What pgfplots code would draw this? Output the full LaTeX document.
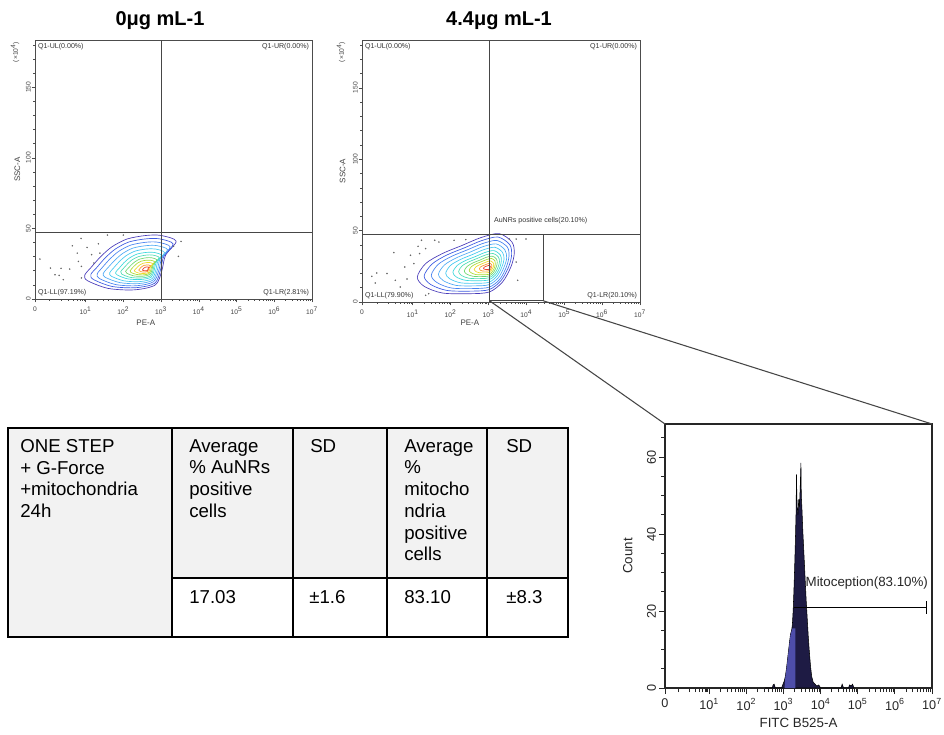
\documentclass[border=0pt]{standalone}
\usepackage{pgfplots}
\pgfplotsset{compat=1.18}
\usepackage{fontspec}
\setmainfont{Liberation Sans}
\definecolor{k1}{RGB}{72,58,185}
\definecolor{k2}{RGB}{60,90,225}
\definecolor{k3}{RGB}{70,130,240}
\definecolor{k4}{RGB}{80,170,245}
\definecolor{k5}{RGB}{70,200,240}
\definecolor{k6}{RGB}{60,215,220}
\definecolor{k7}{RGB}{80,220,180}
\definecolor{k8}{RGB}{110,215,110}
\definecolor{k9}{RGB}{170,220,50}
\definecolor{k10}{RGB}{240,215,40}
\definecolor{k11}{RGB}{250,150,40}
\definecolor{k12}{RGB}{235,60,40}
\definecolor{hdark}{RGB}{30,27,68}
\definecolor{hlight}{RGB}{78,78,170}
\definecolor{qline}{RGB}{70,70,70}
\definecolor{tgray}{RGB}{242,242,242}
\tikzset{qlab/.style={font=\fontsize{5.3}{6}\selectfont, inner sep=0pt, text=black!80}}
\pgfplotsset{
  logminors/.style={minor xtick={#1,1.301,1.477,1.602,1.699,1.778,1.845,1.903,1.954,
    2.301,2.477,2.602,2.699,2.778,2.845,2.903,2.954,
    3.301,3.477,3.602,3.699,3.778,3.845,3.903,3.954,
    4.301,4.477,4.602,4.699,4.778,4.845,4.903,4.954,
    5.301,5.477,5.602,5.699,5.778,5.845,5.903,5.954,
    6.301,6.477,6.602,6.699,6.778,6.845,6.903,6.954}},
  flow/.style={
    scale only axis, clip mode=individual, anchor=south west,
    xmin=-0.34, xmax=7, ymin=0, ymax=183.5,
    axis line style={draw=black!70, line width=0.5pt},
    tick align=outside, tick pos=left,
    major tick length=2.5pt, minor tick length=1.5pt,
    every tick/.style={draw=black!70, line width=0.4pt},
    xtick={-0.34,1,2,3,4,5,6,7},
    xticklabels={0,10\textsuperscript{1},10\textsuperscript{2},10\textsuperscript{3},10\textsuperscript{4},10\textsuperscript{5},10\textsuperscript{6},10\textsuperscript{7}},
    logminors={0.05,0.35,0.54,0.67,0.78,0.85,0.91,0.96},
    ytick={0,50,100,150},
    minor ytick={10,20,30,40,60,70,80,90,110,120,130,140,160,170,180},
    yticklabel style={rotate=90, anchor=south, inner ysep=0.6pt},
    tick label style={font=\fontsize{5}{6}\selectfont, text=black!75},
    /pgf/number format/assume math mode=true,
    xlabel={PE-A}, ylabel={SSC-A},
    label style={font=\fontsize{6}{7}\selectfont, text=black!75},
  },
}
\begin{document}
\begin{tikzpicture}
\path[use as bounding box] (0,0) rectangle (708pt,550.5pt);

% ---------------- plot 1 ----------------
\begin{axis}[flow, at={(26.25pt,326.25pt)}, width=207.75pt, height=194.25pt,
  xlabel style={at={(rel axis cs:0.40,-0.093)}, anchor=center},
  ylabel style={at={(rel axis cs:-0.064,0.5)}, anchor=center}]
\addplot[k1, smooth cycle, line width=0.5pt] coordinates {(0.98,17.0)(1.15,22.5)(1.40,30.0)(1.70,37.0)(2.10,42.5)(2.60,45.0)(3.00,45.0)(3.40,41.0)(3.12,31.0)(3.02,20.0)(2.85,10.0)(2.30,6.5)(1.60,7.5)(1.05,13.0)};
\addplot[k2, smooth cycle, line width=0.5pt] coordinates {(1.14,17.4)(1.30,22.4)(1.52,29.1)(1.79,35.4)(2.15,40.4)(2.60,42.6)(2.96,42.6)(3.32,39.0)(3.07,30.0)(2.98,20.1)(2.83,11.1)(2.33,8.0)(1.70,8.9)(1.21,13.8)};
\addplot[k3, smooth cycle, line width=0.5pt] coordinates {(1.31,17.8)(1.44,22.2)(1.64,28.2)(1.88,33.8)(2.20,38.2)(2.60,40.2)(2.92,40.2)(3.24,37.0)(3.02,29.0)(2.94,20.2)(2.80,12.2)(2.36,9.4)(1.80,10.2)(1.36,14.6)};
\addplot[k4, smooth cycle, line width=0.5pt] coordinates {(1.47,18.2)(1.59,22.1)(1.77,27.3)(1.98,32.2)(2.26,36.1)(2.61,37.8)(2.89,37.8)(3.17,35.0)(2.97,28.0)(2.90,20.3)(2.78,13.3)(2.40,10.9)(1.91,11.6)(1.52,15.4)};
\addplot[k5, smooth cycle, line width=0.5pt] coordinates {(1.64,18.6)(1.74,21.9)(1.89,26.4)(2.07,30.6)(2.31,33.9)(2.61,35.4)(2.85,35.4)(3.09,33.0)(2.92,27.0)(2.86,20.4)(2.76,14.4)(2.43,12.3)(2.01,12.9)(1.68,16.2)};
\addplot[k6, smooth cycle, line width=0.5pt] coordinates {(1.80,19.0)(1.89,21.8)(2.01,25.5)(2.16,29.0)(2.36,31.8)(2.61,33.0)(2.81,33.0)(3.01,31.0)(2.87,26.0)(2.82,20.5)(2.74,15.5)(2.46,13.8)(2.11,14.3)(1.84,17.0)};
\addplot[k7, smooth cycle, line width=0.5pt] coordinates {(1.93,19.3)(2.00,21.6)(2.11,24.8)(2.23,27.7)(2.40,30.0)(2.61,31.1)(2.78,31.1)(2.95,29.4)(2.83,25.2)(2.79,20.6)(2.72,16.4)(2.49,14.9)(2.19,15.3)(1.96,17.6)};
\addplot[k8, smooth cycle, line width=0.5pt] coordinates {(2.06,19.6)(2.12,21.5)(2.21,24.1)(2.31,26.4)(2.44,28.3)(2.61,29.2)(2.75,29.2)(2.89,27.8)(2.79,24.4)(2.76,20.7)(2.70,17.3)(2.51,16.1)(2.27,16.4)(2.09,18.3)};
\addplot[k9, smooth cycle, line width=0.5pt] coordinates {(2.18,19.9)(2.22,21.4)(2.29,23.4)(2.37,25.3)(2.48,26.8)(2.62,27.5)(2.72,27.5)(2.83,26.4)(2.76,23.7)(2.73,20.7)(2.68,18.0)(2.53,17.1)(2.35,17.4)(2.20,18.8)};
\addplot[k10, smooth cycle, line width=0.5pt] coordinates {(2.29,20.2)(2.33,21.3)(2.38,22.8)(2.44,24.2)(2.52,25.3)(2.62,25.8)(2.70,25.8)(2.78,25.0)(2.72,23.0)(2.70,20.8)(2.67,18.8)(2.56,18.1)(2.42,18.3)(2.31,19.4)};
\addplot[k11, smooth cycle, line width=0.5pt] coordinates {(2.41,20.5)(2.43,21.2)(2.46,22.2)(2.50,23.1)(2.55,23.8)(2.62,24.1)(2.67,24.1)(2.72,23.6)(2.69,22.3)(2.67,20.9)(2.65,19.6)(2.58,19.1)(2.49,19.2)(2.42,20.0)};
\addplot[k12, smooth cycle, line width=0.5pt] coordinates {(2.51,20.7)(2.52,21.1)(2.53,21.6)(2.56,22.1)(2.58,22.5)(2.62,22.7)(2.65,22.7)(2.68,22.4)(2.66,21.7)(2.65,20.9)(2.64,20.2)(2.60,20.0)(2.55,20.1)(2.51,20.4)};
\addplot[only marks, mark=*, mark size=0.35pt, black!60] coordinates {(-0.21,28.3)(0.07,21.9)(0.35,21.7)(0.19,17.2)(0.30,16.7)(0.58,21.2)(0.65,37.7)(0.88,42.9)(0.78,32.5)(0.81,26.6)(0.89,23.1)(1.04,36.5)(1.16,31.4)(1.22,25.5)(1.34,39.1)(1.38,32.5)(1.58,45.3)(2.00,45.3)(3.33,37.3)(3.53,40.8)(3.46,30.2)(0.41,13.7)(0.89,14.9)};
\addplot[qline, line width=0.6pt] coordinates {(3,0)(3,183.5)};
\addplot[qline, line width=0.6pt] coordinates {(-0.34,47.3)(7,47.3)};
\node[qlab, anchor=west] at (rel axis cs:0.01,0.974) {Q1-UL(0.00\%)};
\node[qlab, anchor=east] at (rel axis cs:0.99,0.974) {Q1-UR(0.00\%)};
\node[qlab, anchor=west] at (rel axis cs:0.01,0.023) {Q1-LL(97.19\%)};
\node[qlab, anchor=east] at (rel axis cs:0.99,0.023) {Q1-LR(2.81\%)};
\end{axis}

% ---------------- plot 2 ----------------
\begin{axis}[flow, at={(271.5pt,324pt)}, width=208.5pt, height=196.5pt,
  xlabel style={at={(rel axis cs:0.388,-0.080)}, anchor=center},
  ylabel style={at={(rel axis cs:-0.070,0.5)}, anchor=center}]
\addplot[k1, smooth cycle, line width=0.5pt] coordinates {(1.12,17.5)(1.34,26.9)(1.78,33.9)(2.31,39.7)(2.80,45.1)(3.28,47.9)(3.62,42.0)(3.68,33.9)(3.59,24.5)(3.37,14.0)(3.02,7.0)(2.49,5.8)(1.78,6.3)(1.30,11.0)};
\addplot[k2, smooth cycle, line width=0.5pt] coordinates {(1.30,18.2)(1.51,26.6)(1.90,32.9)(2.38,38.1)(2.82,43.0)(3.25,45.5)(3.56,40.2)(3.61,32.9)(3.53,24.5)(3.33,15.0)(3.02,8.7)(2.54,7.6)(1.90,8.1)(1.47,12.3)};
\addplot[k3, smooth cycle, line width=0.5pt] coordinates {(1.49,18.8)(1.67,26.3)(2.02,31.9)(2.45,36.6)(2.84,40.9)(3.22,43.1)(3.50,38.4)(3.54,31.9)(3.47,24.4)(3.30,16.0)(3.02,10.4)(2.59,9.4)(2.02,9.8)(1.64,13.6)};
\addplot[k4, smooth cycle, line width=0.5pt] coordinates {(1.68,19.5)(1.84,26.0)(2.15,30.9)(2.52,35.0)(2.86,38.8)(3.20,40.7)(3.43,36.6)(3.48,30.9)(3.41,24.4)(3.26,17.0)(3.01,12.1)(2.64,11.3)(2.15,11.6)(1.81,14.9)};
\addplot[k5, smooth cycle, line width=0.5pt] coordinates {(1.87,20.1)(2.00,25.7)(2.27,29.9)(2.59,33.4)(2.88,36.7)(3.17,38.3)(3.37,34.8)(3.41,29.9)(3.35,24.3)(3.22,18.0)(3.01,13.8)(2.69,13.1)(2.27,13.4)(1.98,16.2)};
\addplot[k6, smooth cycle, line width=0.5pt] coordinates {(2.06,20.8)(2.17,25.5)(2.39,29.0)(2.66,31.9)(2.90,34.6)(3.14,36.0)(3.31,33.0)(3.34,29.0)(3.30,24.3)(3.19,19.0)(3.01,15.5)(2.75,14.9)(2.39,15.2)(2.15,17.5)};
\addplot[k7, smooth cycle, line width=0.5pt] coordinates {(2.21,21.3)(2.30,25.2)(2.49,28.2)(2.71,30.6)(2.92,32.9)(3.12,34.0)(3.26,31.6)(3.29,28.2)(3.25,24.2)(3.16,19.8)(3.01,16.9)(2.79,16.4)(2.49,16.6)(2.29,18.5)};
\addplot[k8, smooth cycle, line width=0.5pt] coordinates {(2.36,21.8)(2.44,25.0)(2.59,27.4)(2.77,29.3)(2.93,31.2)(3.10,32.1)(3.21,30.1)(3.23,27.4)(3.20,24.2)(3.13,20.6)(3.01,18.2)(2.83,17.8)(2.59,18.0)(2.42,19.6)};
\addplot[k9, smooth cycle, line width=0.5pt] coordinates {(2.49,22.2)(2.55,24.8)(2.67,26.7)(2.81,28.2)(2.95,29.7)(3.08,30.5)(3.17,28.9)(3.18,26.7)(3.16,24.1)(3.10,21.3)(3.01,19.4)(2.86,19.1)(2.67,19.2)(2.54,20.5)};
\addplot[k10, smooth cycle, line width=0.5pt] coordinates {(2.62,22.7)(2.67,24.6)(2.76,26.0)(2.86,27.1)(2.96,28.2)(3.06,28.8)(3.12,27.6)(3.14,26.0)(3.12,24.1)(3.07,22.0)(3.00,20.6)(2.90,20.4)(2.76,20.5)(2.66,21.4)};
\addplot[k11, smooth cycle, line width=0.5pt] coordinates {(2.76,23.2)(2.78,24.4)(2.84,25.3)(2.91,26.0)(2.97,26.7)(3.04,27.1)(3.08,26.3)(3.09,25.3)(3.08,24.1)(3.05,22.7)(3.00,21.8)(2.93,21.6)(2.84,21.7)(2.78,22.3)};
\addplot[k12, smooth cycle, line width=0.5pt] coordinates {(2.87,23.5)(2.88,24.2)(2.91,24.7)(2.95,25.1)(2.99,25.5)(3.02,25.7)(3.04,25.3)(3.05,24.7)(3.04,24.0)(3.03,23.3)(3.00,22.8)(2.96,22.7)(2.92,22.8)(2.88,23.1)};
\addplot[only marks, mark=*, mark size=0.35pt, black!60] coordinates {(-0.08,18.0)(0.05,20.3)(0.01,13.3)(0.32,19.9)(0.50,34.6)(0.54,15.2)(0.67,10.5)(0.79,24.5)(0.85,16.1)(0.94,32.7)(1.03,26.9)(1.14,39.0)(1.23,43.2)(1.18,33.9)(1.34,37.4)(1.42,5.8)(1.58,43.2)(1.69,42.0)(2.09,43.2)(2.40,43.7)(3.55,44.1)(3.73,44.1)(3.99,44.1)(3.73,28.0)(3.77,15.2)(1.34,4.7)};
\addplot[qline, line width=0.6pt] coordinates {(3.03,0)(3.03,183.5)};
\addplot[qline, line width=0.6pt] coordinates {(-0.34,47.3)(7,47.3)};
\addplot[qline, line width=0.6pt] coordinates {(3.03,0.8)(4.45,0.8)(4.45,47.3)};
\coordinate (gA) at (axis cs:3.03,0.8);
\coordinate (gB) at (axis cs:4.45,0.8);
\node[qlab, anchor=west] at (axis cs:3.14,57.2) {AuNRs positive cells(20.10\%)};
\node[qlab, anchor=west] at (rel axis cs:0.01,0.974) {Q1-UL(0.00\%)};
\node[qlab, anchor=east] at (rel axis cs:0.99,0.974) {Q1-UR(0.00\%)};
\node[qlab, anchor=west] at (rel axis cs:0.01,0.023) {Q1-LL(79.90\%)};
\node[qlab, anchor=east] at (rel axis cs:0.99,0.023) {Q1-LR(20.10\%)};
\end{axis}

% ---------------- histogram ----------------
\begin{axis}[scale only axis, clip mode=individual, anchor=south west,
  at={(498.75pt,34.5pt)}, width=200.25pt, height=198pt,
  xmin=-0.19, xmax=7, ymin=0, ymax=68.6,
  axis line style={draw=black!85, line width=0.8pt},
  tick align=outside, tick pos=left,
  major tick length=4.5pt, minor tick length=3pt,
  every tick/.style={draw=black!85, line width=0.6pt},
  xtick={-0.19,1,2,3,4,5,6,7},
  xticklabels={0,10\textsuperscript{1},10\textsuperscript{2},10\textsuperscript{3},10\textsuperscript{4},10\textsuperscript{5},10\textsuperscript{6},10\textsuperscript{7}},
  logminors={0.17,0.47,0.62,0.74,0.83,0.89,0.93,0.96},
  ytick={0,20,40,60}, minor ytick={5,10,15,25,30,35,45,50,55,65},
  yticklabel style={rotate=90, anchor=south, inner ysep=2pt},
  tick label style={font=\fontsize{9.5}{11}\selectfont, text=black!85},
  /pgf/number format/assume math mode=true,
  xlabel={FITC B525-A}, ylabel={Count},
  label style={font=\fontsize{10}{12}\selectfont, text=black!85},
  xlabel style={at={(rel axis cs:0.5,-0.133)}, anchor=center},
  ylabel style={at={(rel axis cs:-0.139,0.5)}, anchor=center}]
\addplot[fill=hdark, draw=black, line width=0.4pt] coordinates {
(2.50,0)(2.70,0)(2.72,0.8)(2.75,1.0)(2.78,0)(2.95,0)(2.98,0.8)(3.02,1.8)(3.05,3.0)(3.08,5.0)
(3.11,7.5)(3.14,10.0)(3.17,12.5)(3.19,14.0)(3.22,15.0)(3.24,16.5)(3.26,20.0)(3.28,25.0)(3.30,31.0)
(3.32,38.0)(3.34,46.0)(3.35,55.5)(3.36,50.0)(3.37,47.0)(3.39,45.0)(3.41,49.0)(3.43,47.0)(3.45,52.0)
(3.47,58.5)(3.48,50.0)(3.50,46.0)(3.52,41.0)(3.55,35.0)(3.58,29.0)(3.61,23.0)(3.64,18.0)(3.67,13.0)
(3.70,9.0)(3.73,5.5)(3.76,3.0)(3.80,1.5)(3.85,1.0)(3.90,0.5)(3.95,0.8)(4.00,0)(4.55,0)(4.58,1.0)
(4.62,0)(4.75,0)(4.78,0.8)(4.82,0.5)(4.86,1.0)(4.90,0)} \closedcycle;
\addplot[fill=hlight, draw=none] coordinates {(3.03,0)(3.05,2.8)(3.08,4.8)(3.11,7.3)(3.14,9.8)(3.17,12.3)(3.19,13.8)(3.22,14.8)(3.24,15.5)(3.32,15.5)(3.32,0)} \closedcycle;
\addplot[black, line width=0.6pt] coordinates {(3.27,21)(6.84,21)};
\addplot[black, line width=0.6pt] coordinates {(6.84,19.3)(6.84,22.7)};
\node[anchor=west, inner sep=0pt, font=\fontsize{10}{12}\selectfont, text=black!85] at (axis cs:3.59,27.3) {Mitoception(83.10\%)};
\coordinate (hA) at (rel axis cs:0,1);
\coordinate (hB) at (rel axis cs:1,1);
\end{axis}

\draw[qline, line width=0.8pt] (gA) -- (hA);
\draw[qline, line width=0.8pt] (gB) -- (hB);

% ---------------- titles, table ----------------
\begin{scope}[x=0.75pt, y=-0.75pt, shift={(0,550.5pt)}]
\node[font=\fontsize{15}{18}\selectfont\bfseries] at (160,21) {0μg mL-1};
\node[font=\fontsize{15}{18}\selectfont\bfseries] at (499,21) {4.4μg mL-1};
\node[rotate=90, font=\fontsize{5}{6}\selectfont, text=black!75] at (15,52) {(×10\textsuperscript{4})};
\node[rotate=90, font=\fontsize{5}{6}\selectfont, text=black!75] at (341,52) {(×10\textsuperscript{4})};

\fill[tgray] (8,428) rectangle (172,637);
\fill[tgray] (172,428) rectangle (568,578);
\draw[line width=0.9pt] (172,428) -- (172,637) (293,428) -- (293,637) (387,428) -- (387,637) (487,428) -- (487,637) (172,578) -- (568,578);
\draw[line width=1.1pt] (8,428) rectangle (568,637);
\begin{scope}[every node/.style={anchor=north west, inner sep=0pt, align=left, font=\fontsize{14}{16.3}\selectfont}]
\node at (20,439) {ONE STEP\\+ G-Force\\+mitochondria\\24h};
\node at (189,439) {Average\\\% AuNRs\\positive\\cells};
\node at (310,439) {SD};
\node at (404,439) {Average\\\%\\mitocho\\ndria\\positive\\cells};
\node at (506,439) {SD};
\node at (189,590) {17.03};
\node at (309,590) {±1.6};
\node at (404,590) {83.10};
\node at (506,590) {±8.3};
\end{scope}
\end{scope}
\end{tikzpicture}
\end{document}
